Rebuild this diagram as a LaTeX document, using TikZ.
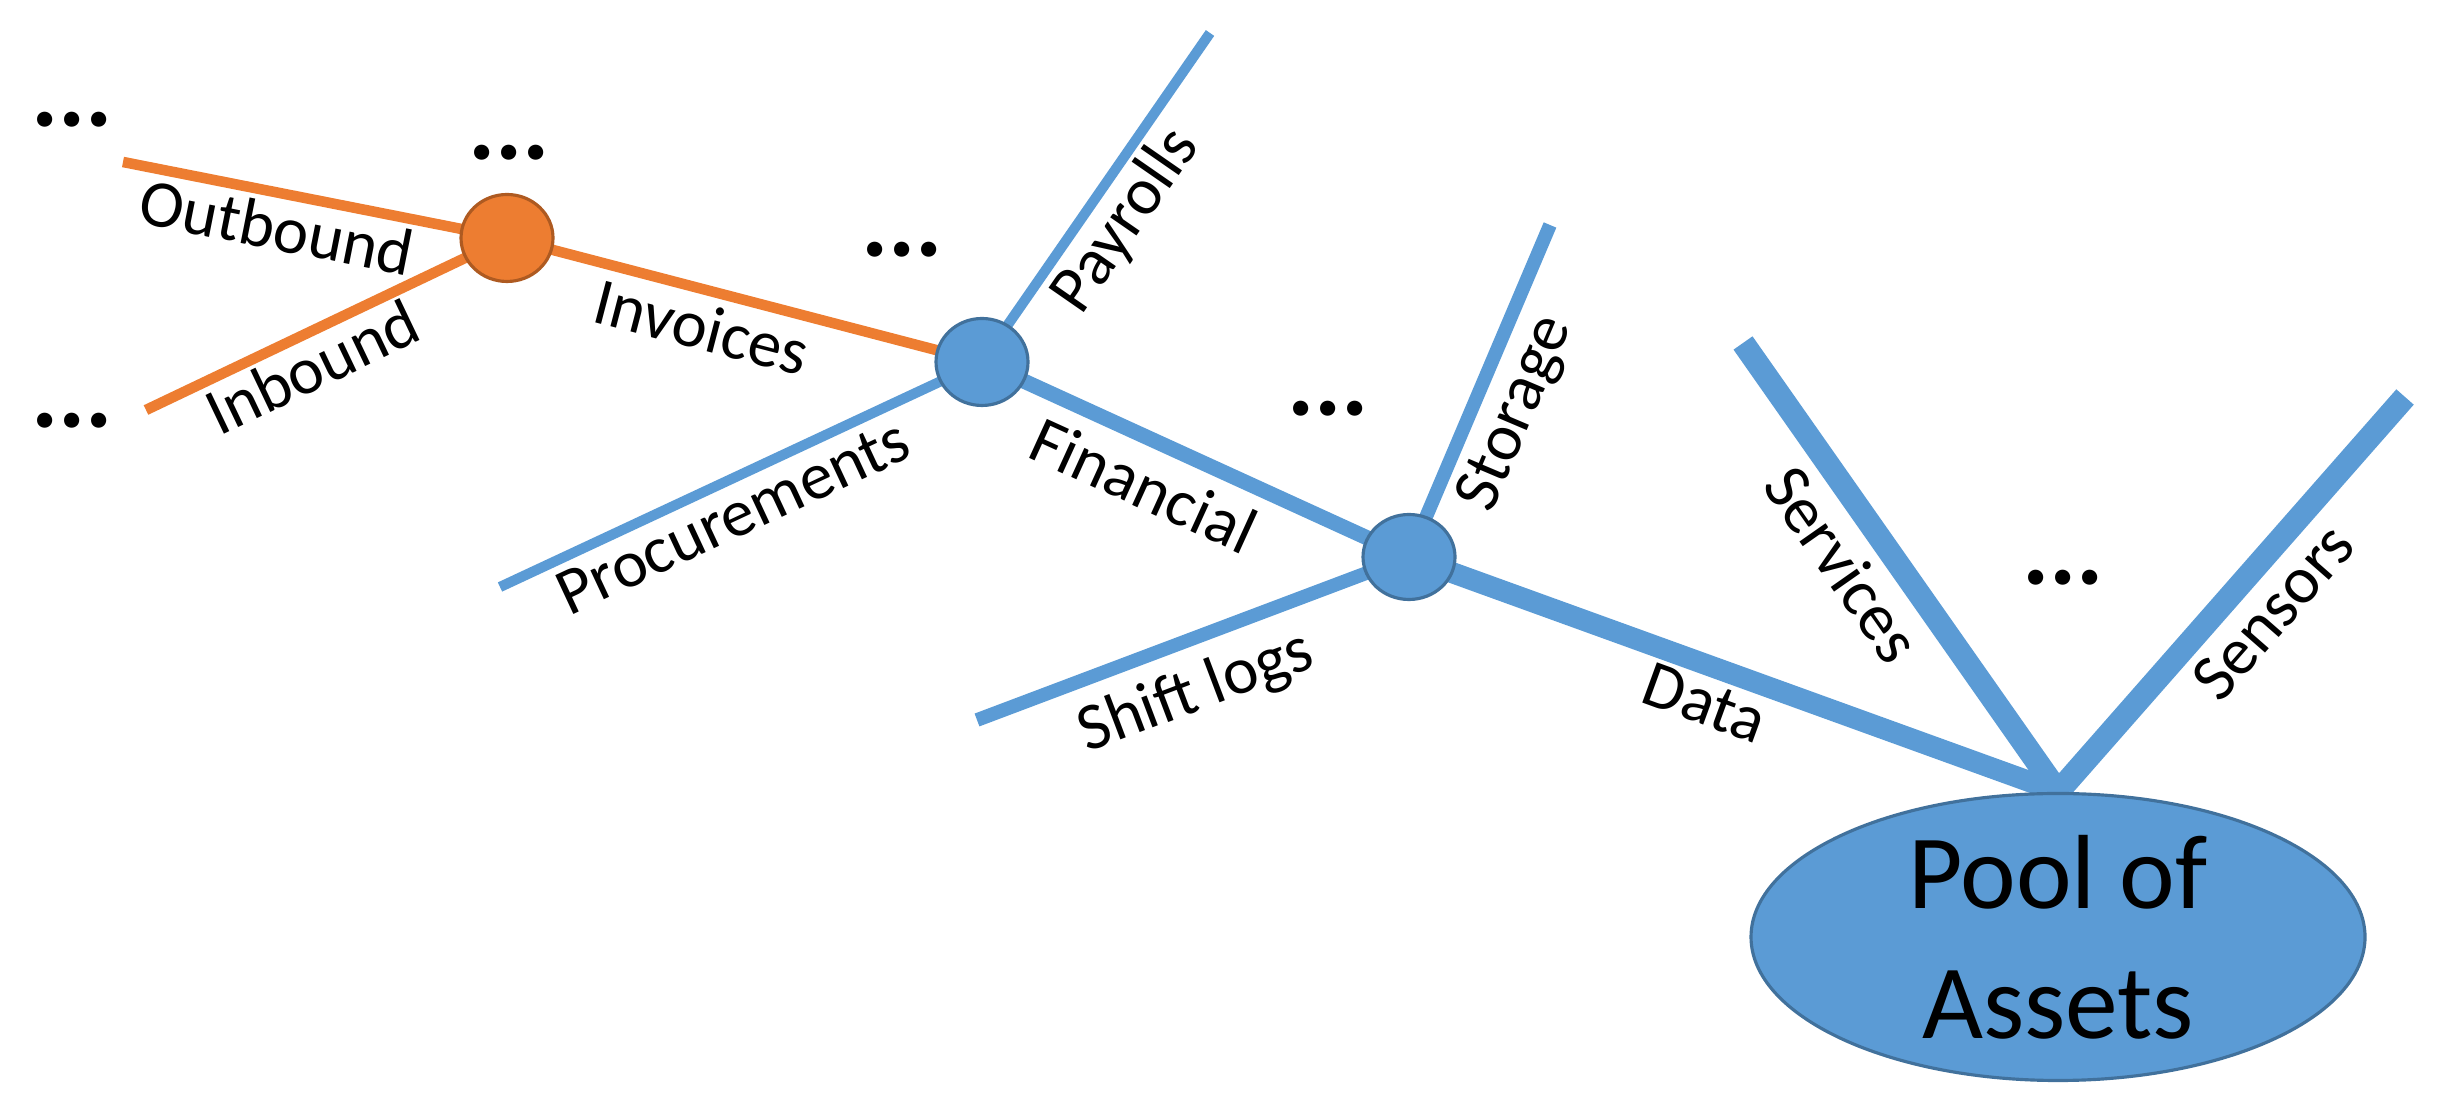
\documentclass[tikz,border=0pt]{standalone}
\usepackage{fontspec}
\setmainfont{Carlito}
\usepackage{tikz}
\usetikzlibrary{shapes.geometric,backgrounds}
\definecolor{PAOrange}{HTML}{ED7D31}
\definecolor{PAOrangeEdge}{HTML}{AE5A21}
\definecolor{PABlue}{HTML}{5B9BD5}
\definecolor{PABlueEdge}{HTML}{41719C}

\begin{document}
\begin{tikzpicture}[x=1cm,y=1cm,
  hub/.style={ellipse,line width=.9pt,minimum width=.92cm,minimum height=.87cm,inner sep=0pt},
  orangehub/.style={hub,fill=PAOrange,draw=PAOrangeEdge},
  bluehub/.style={hub,fill=PABlue,draw=PABlueEdge},
  lbl/.style={font=\fontsize{19}{23}\selectfont,inner sep=0pt},
  more/.style={font=\fontsize{29}{35}\selectfont\bfseries,inner sep=0pt,anchor=base},
  orangeflow/.style={PAOrange,line width=3pt},
  thinflow/.style={PABlue,line width=2.9pt},
  midflow/.style={PABlue,line width=3.9pt},
  mainflow/.style={PABlue,line width=4.3pt},
  wideflow/.style={PABlue,line width=6pt},
  widestflow/.style={PABlue,line width=6.6pt}]
\path[use as bounding box] (0,0) rectangle (24.40,11.09);
% hubs
\node[orangehub] (inv) at (5.07,8.71) {};
\node[bluehub] (fin) at (9.82,7.47) {};
\node[bluehub,minimum height=.85cm] (dat) at (14.09,5.52) {};
\node[ellipse,fill=PABlue,draw=PABlueEdge,line width=.9pt,minimum width=6.14cm,minimum height=2.87cm,inner sep=0pt] (pool) at (20.58,1.72) {};
\node[font=\fontsize{30}{37}\selectfont,align=center,inner sep=0pt] (pooltxt) at (pool.center) {Pool of\\Assets};
% loose ends
\coordinate (outEnd) at (1.23,9.47);
\coordinate (inEnd) at (1.46,6.99);
\coordinate (procEnd) at (5.00,5.22);
\coordinate (payEnd) at (12.10,10.76);
\coordinate (storEnd) at (15.50,8.84);
\coordinate (shiftEnd) at (9.77,3.89);
\coordinate (servEnd) at (17.43,7.66);
\coordinate (sensEnd) at (24.05,7.12);
% branches
\begin{scope}[on background layer]
\draw[orangeflow] (outEnd) -- (inv.center);
\draw[orangeflow] (inEnd) -- (inv.center);
\draw[orangeflow] (inv.center) -- (fin.center);
\draw[thinflow] (procEnd) -- (fin.center);
\draw[thinflow] (fin.center) -- (payEnd);
\draw[mainflow] (fin.center) -- (dat.center);
\draw[midflow] (dat.center) -- (storEnd);
\draw[midflow] (shiftEnd) -- (dat.center);
\draw[wideflow] (dat.center) -- (pool.north);
\draw[widestflow] (servEnd) -- (pool.north);
\draw[widestflow] (sensEnd) -- (pool.north);
\end{scope}
% labels
\node[lbl,rotate=-11.2] (outLbl) at (2.77,8.82) {Outbound};
\node[lbl,rotate=25.5] (inLbl) at (3.12,7.42) {Inbound};
\node[lbl,rotate=-14.6] (invLbl) at (7.02,7.82) {Invoices};
\node[lbl,rotate=25.0] (procLbl) at (7.33,5.92) {Procurements};
\node[lbl,rotate=55.3] (payLbl) at (11.26,8.88) {Payrolls};
\node[lbl,rotate=-24.5] (finLbl) at (11.44,6.24) {Financial};
\node[lbl,rotate=67.0] (storLbl) at (15.17,6.95) {Storage};
\node[lbl,rotate=20.7] (shiftLbl) at (11.96,4.16) {Shift logs};
\node[lbl,rotate=-20.0] (datLbl) at (17.05,4.06) {Data};
\node[lbl,rotate=-55.0] (servLbl) at (18.43,5.45) {Services};
\node[lbl,rotate=48.8] (sensLbl) at (22.73,4.97) {Sensors};
% more branches
\node[more] (moreA) at (0.72,9.82) {...};
\node[more] (moreB) at (5.09,9.49) {...};
\node[more] (moreC) at (0.72,6.81) {...};
\node[more] (moreD) at (9.02,8.52) {...};
\node[more] (moreE) at (13.28,6.93) {...};
\node[more] (moreF) at (20.63,5.24) {...};
\end{tikzpicture}
\end{document}
